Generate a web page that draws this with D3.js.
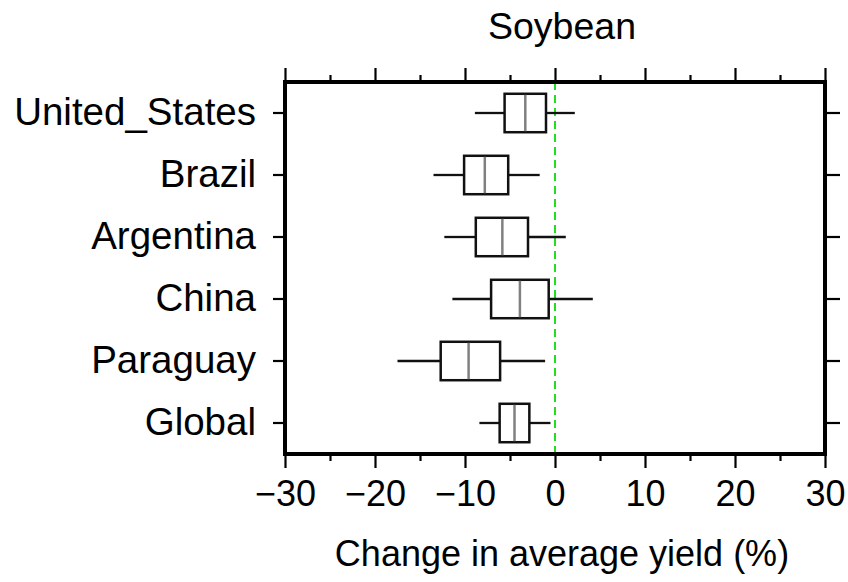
<!DOCTYPE html>
<html>
<head>
<meta charset="utf-8">
<script src="https://cdn.jsdelivr.net/npm/d3@7"></script>
<style>
  body { margin: 0; background: #fff; }
  text { font-family: "Liberation Sans", Arial, sans-serif; fill: #000; }
</style>
</head>
<body>
<svg width="848" height="582"></svg>
<script>
// data (percent change)
var countries = ["United_States", "Brazil", "Argentina", "China", "Paraguay", "Global"];
var whiskerLow = [-8.9, -13.5, -12.3, -11.4, -17.5, -8.4];
var q1 = [-5.6, -10.1, -8.8, -7.1, -12.7, -6.15];
var median = [-3.3, -7.8, -5.85, -3.9, -9.6, -4.5];
var q3 = [-1.0, -5.2, -3.0, -0.7, -6.1, -2.85];
var whiskerHigh = [2.2, -1.7, 1.2, 4.2, -1.1, -0.5];
var xTicks = [-30, -20, -10, 0, 10, 20, 30];
var xMinor = [-25, -15, -5, 5, 15, 25];

var rows = countries.map(function (c, i) {
    return {name: c, lo: whiskerLow[i], q1: q1[i], med: median[i], q3: q3[i], hi: whiskerHigh[i]};
});

var svg = d3.select("svg");
var margin = {"top": 82, "right": 23, "bottom": 128, "left": 285};
var width = +svg.attr("width") - margin.left - margin.right;
var height = +svg.attr("height") - margin.top - margin.bottom;
var g = svg.append("g").attr("transform", "translate(" + margin.left + "," + margin.top + ")");

var x = d3.scaleLinear().domain([-30, 30]).range([0, width]);
var y = d3.scaleBand().domain(countries).range([0, height]);
var boxH = y.bandwidth() * 0.62;

// axes
function styleAxis(size) {
    return function (sel) {
        sel.select(".domain").remove();
        sel.selectAll(".tick line").attr("stroke", "#000").attr("stroke-width", 2.2);
        sel.selectAll("text").style("font-size", size + "px").style("font-family", "Liberation Sans, Arial, sans-serif");
    };
}

g.append("g").attr("transform", "translate(0," + height + ")")
    .call(d3.axisBottom(x).tickValues(xTicks).tickSize(14).tickPadding(12).tickFormat(d3.format("d")))
    .call(styleAxis(36));
g.append("g").attr("transform", "translate(0," + height + ")")
    .call(d3.axisBottom(x).tickValues(xMinor).tickSize(7).tickFormat(""))
    .call(styleAxis(36));
g.append("g")
    .call(d3.axisTop(x).tickValues(xTicks).tickSize(14).tickFormat(""))
    .call(styleAxis(36));
g.append("g")
    .call(d3.axisTop(x).tickValues(xMinor).tickSize(7).tickFormat(""))
    .call(styleAxis(36));
g.append("g")
    .call(d3.axisLeft(y).tickSize(12).tickPadding(17))
    .call(styleAxis(38.5));
g.append("g").attr("transform", "translate(" + width + ",0)")
    .call(d3.axisRight(y).tickSize(15).tickFormat(""))
    .call(styleAxis(38));

// zero reference line
g.append("line")
    .attr("x1", x(0)).attr("x2", x(0))
    .attr("y1", 0).attr("y2", height)
    .attr("stroke", "#22dd22")
    .attr("stroke-width", 2)
    .attr("stroke-dasharray", "8,5");

// boxes
var box = g.selectAll(".box").data(rows).enter().append("g").attr("class", "box")
    .attr("transform", function (d) { return "translate(0," + (y(d.name) + y.bandwidth() / 2) + ")"; });

box.append("line")
    .attr("x1", function (d) { return x(d.lo); })
    .attr("x2", function (d) { return x(d.q1); })
    .attr("stroke", "#111").attr("stroke-width", 2.3);
box.append("line")
    .attr("x1", function (d) { return x(d.q3); })
    .attr("x2", function (d) { return x(d.hi); })
    .attr("stroke", "#111").attr("stroke-width", 2.3);
box.append("rect")
    .attr("x", function (d) { return x(d.q1); })
    .attr("y", -boxH / 2)
    .attr("width", function (d) { return x(d.q3) - x(d.q1); })
    .attr("height", boxH)
    .attr("fill", "none")
    .attr("stroke", "#111").attr("stroke-width", 2.5);
box.append("line")
    .attr("x1", function (d) { return x(d.med); })
    .attr("x2", function (d) { return x(d.med); })
    .attr("y1", -boxH / 2 + 1).attr("y2", boxH / 2 - 1)
    .attr("stroke", "#808080").attr("stroke-width", 2.5);

// frame
g.append("rect")
    .attr("width", width).attr("height", height)
    .attr("fill", "none").attr("stroke", "#000").attr("stroke-width", 4);

// titles
svg.append("text")
    .attr("x", margin.left + width / 2 + 7).attr("y", 39)
    .attr("text-anchor", "middle")
    .style("font-size", "37.5px")
    .text("Soybean");
svg.append("text")
    .attr("x", margin.left + width / 2 + 7).attr("y", 566)
    .attr("text-anchor", "middle")
    .style("font-size", "36px")
    .text("Change in average yield (%)");
</script>
</body>
</html>
